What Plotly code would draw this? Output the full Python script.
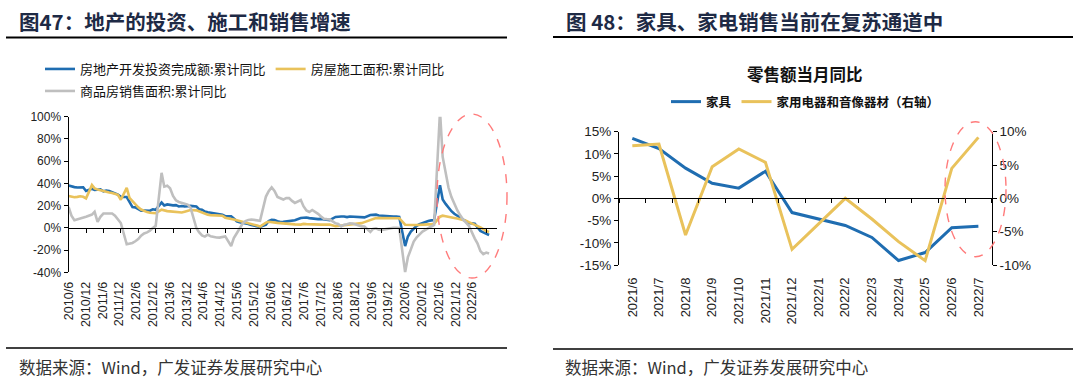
import plotly.graph_objects as go

# ---------------- Left chart: 地产的投资、施工和销售增速 (YTD yoy, %) ----------------
# monthly observations 2010/6 .. 2022/7 (January not published -> Feb..Dec each year)
invest_2010_2022 = [
    38.1, 37.2, 36.7, 36.4, 36.5, 36.5, 33.2,
    35.2, 34.1, 34.3, 34.6, 32.9, 33.6, 33.2, 32.0, 31.1, 29.9, 27.9,
    27.8, 23.5, 18.7, 18.5, 16.6, 15.4, 15.6, 15.4, 15.4, 16.7, 16.2,
    22.8, 20.2, 21.1, 20.6, 20.3, 20.5, 19.3, 19.7, 19.2, 19.5, 19.8,
    19.3, 16.8, 16.4, 14.7, 14.1, 13.7, 13.2, 12.5, 12.4, 11.9, 10.5,
    10.4, 8.5, 6.0, 5.1, 4.6, 4.3, 3.5, 2.6, 2.0, 1.3, 1.0,
    3.0, 6.2, 7.2, 7.0, 6.1, 5.3, 5.4, 5.8, 6.6, 6.5, 6.9,
    8.9, 9.1, 9.3, 8.8, 8.5, 7.9, 7.9, 8.1, 7.8, 7.5, 7.0,
    9.9, 10.4, 10.3, 10.2, 9.7, 10.2, 10.1, 9.9, 9.7, 9.7, 9.5,
    11.6, 11.8, 11.9, 11.2, 10.9, 10.6, 10.5, 10.5, 10.3, 10.2, 9.9,
    -16.3, -7.7, -3.3, -0.3, 1.9, 3.4, 4.6, 5.6, 6.3, 6.8, 7.0,
    38.3, 25.6, 21.6, 18.3, 15.0, 12.7, 10.9, 8.8, 7.2, 6.0, 4.4,
    3.7, 0.7, -2.7, -4.0, -5.4, -6.4,
]
construction_2010_2022 = [
    28.7, 28.0, 27.6, 27.9, 28.4, 28.0, 26.6,
    38.5, 35.5, 34.6, 33.9, 32.8, 32.5, 31.9, 31.4, 30.5, 29.7, 25.3,
    36.0, 27.0, 24.0, 21.0, 18.5, 16.5, 15.0, 14.2, 13.7, 13.5, 13.2,
    16.4, 15.5, 15.1, 14.9, 14.6, 14.3, 14.0, 13.9, 14.6, 15.3, 16.1,
    15.8, 14.8, 13.5, 12.5, 11.9, 11.5, 11.3, 11.2, 11.3, 11.0, 9.2,
    8.4, 7.5, 6.9, 6.3, 5.5, 4.8, 4.0, 3.3, 2.7, 2.1, 1.3,
    4.8, 5.5, 5.0, 4.8, 4.5, 4.3, 4.0, 3.9, 3.5, 3.2, 3.2,
    3.0, 3.6, 3.4, 3.2, 3.1, 3.0, 3.0, 3.0, 3.1, 3.0, 3.0,
    1.5, 1.8, 1.9, 2.0, 2.3, 2.6, 2.8, 3.3, 3.6, 4.3, 5.2,
    6.8, 8.2, 8.8, 8.8, 8.8, 9.0, 8.8, 8.7, 9.0, 8.7, 8.7,
    2.9, 2.6, 2.5, 2.6, 2.6, 2.9, 3.1, 3.1, 3.2, 3.2, 3.7,
    10.1, 11.0, 10.5, 10.1, 10.0, 9.0, 8.4, 7.9, 7.1, 6.5, 5.2,
    3.0, 1.5, 0.5, -1.0, -2.8, -3.7,
]
sales_2010_2022 = [
    18.8, 11.0, 6.9, 7.6, 8.4, 9.1, 10.1,
    12.0, 14.5, 5.5, 10.0, 12.9, 13.0, 12.8, 12.9, 11.0, 7.5, 4.4,
    -14.7, -14.2, -13.5, -12.0, -10.0, -7.0, -5.0, -4.0, -2.5, 0.0, 1.8,
    49.5, 37.1, 38.0, 35.6, 28.7, 24.8, 23.3, 22.7, 22.0, 21.0, 18.5,
    -0.1, -3.8, -6.8, -7.8, -6.0, -7.6, -8.3, -8.6, -8.7, -8.2, -7.6,
    -16.3, -9.2, -4.8, -0.2, 3.9, 6.1, 7.2, 7.5, 7.2, 7.4, 6.5,
    28.2, 33.1, 36.5, 33.2, 27.9, 26.4, 25.5, 26.9, 26.8, 24.3, 22.5,
    25.1, 19.5, 15.7, 14.3, 16.1, 14.7, 12.7, 10.3, 8.2, 7.9, 7.7,
    4.1, 3.6, 1.3, 2.9, 3.3, 4.2, 4.0, 2.9, 2.2, 1.4, 1.3,
    -3.6, -0.9, -0.3, -1.6, -1.8, -1.3, -0.6, -0.1, 0.1, 0.2, -0.1,
    -39.9, -26.3, -19.3, -12.3, -8.4, -5.8, -3.3, -1.8, 0.0, 1.3, 2.6,
    104.9, 63.8, 48.1, 36.3, 27.7, 21.5, 15.9, 11.3, 7.5, 4.8, 1.9,
    -9.6, -13.8, -20.9, -23.6, -22.2, -23.1,
]
left_tick_labels = [
    "2010/6", "2010/12", "2011/6", "2011/12", "2012/6", "2012/12", "2013/6",
    "2013/12", "2014/6", "2014/12", "2015/6", "2015/12", "2016/6", "2016/12",
    "2017/6", "2017/12", "2018/6", "2018/12", "2019/6", "2019/12", "2020/6",
    "2020/12", "2021/6", "2021/12", "2022/6",
]
left_y_vals = [-40, -20, 0, 20, 40, 60, 80, 100]
left_y_text = ["-40%", "-20%", "0%", "20%", "40%", "60%", "80%", "100%"]

# ---------------- Right chart: 零售额当月同比 (%) ----------------
right_categories = ["2021/6", "2021/7", "2021/8", "2021/9", "2021/10", "2021/11", "2021/12",
                    "2022/1", "2022/2", "2022/3", "2022/4", "2022/5", "2022/6", "2022/7"]
furniture = [13.5, 11.2, 6.8, 3.4, 2.3, 6.1, -3.2, -4.6, -6.1, -8.8, -14.0, -12.2, -6.6, -6.3]
appliances = [7.9, 8.15, -5.5, 4.75, 7.4, 5.4, -7.65, -3.8, 0.0, -3.1, -6.5, -9.35, 4.5, 9.15]
right_left_vals = [-15, -10, -5, 0, 5, 10, 15]
right_left_text = ["-15%", "-10%", "-5%", "0%", "5%", "10%", "15%"]
right_right_vals = [-10, -5, 0, 5, 10]
right_right_text = ["-10%", "-5%", "0%", "5%", "10%"]

# ---------------- helpers ----------------
W, H = 1080, 385


def px(x):
    return x / W


def py(y):
    return 1 - y / H


def month_dates():
    out = [f"2010-{m:02d}-01" for m in range(6, 13)]
    for yr in range(2011, 2022):
        out += [f"{yr}-{m:02d}-01" for m in range(2, 13)]
    out += [f"2022-{m:02d}-01" for m in range(2, 8)]
    return out


dates = month_dates()
left_tick_dates = [f"{s.split('/')[0]}-{int(s.split('/')[1]):02d}-01" for s in left_tick_labels]

BLUE = "#1F6DB1"
GOLD = "#E9C25B"
GREY = "#BFBFBF"
NUM_FONT = "Liberation Sans, Arial, Noto Sans CJK SC"
CJK = "Noto Sans CJK SC, Liberation Sans"
TITLE_COLOR = "#1E2A45"

fig = go.Figure()

# left chart traces
fig.add_trace(go.Scatter(x=dates, y=invest_2010_2022, name="房地产开发投资完成额:累计同比",
                         mode="lines", line=dict(color=BLUE, width=2.6), xaxis="x", yaxis="y",
                         legend="legend"))
fig.add_trace(go.Scatter(x=dates, y=construction_2010_2022, name="房屋施工面积:累计同比",
                         mode="lines", line=dict(color=GOLD, width=2.6), xaxis="x", yaxis="y",
                         legend="legend"))
fig.add_trace(go.Scatter(x=dates, y=sales_2010_2022, name="商品房销售面积:累计同比",
                         mode="lines", line=dict(color=GREY, width=2.6), xaxis="x", yaxis="y",
                         legend="legend2"))
# label-only axis for the left chart (labels sit at the bottom, ticks on the 0% line)
fig.add_trace(go.Scatter(x=[0], y=[None], xaxis="x3", yaxis="y", showlegend=False,
                         hoverinfo="skip", mode="lines"))

# right chart traces
fig.add_trace(go.Scatter(x=right_categories, y=furniture, name="家具", mode="lines",
                         line=dict(color=BLUE, width=3), xaxis="x2", yaxis="y2", legend="legend3"))
fig.add_trace(go.Scatter(x=right_categories, y=appliances, name="家用电器和音像器材（右轴）", mode="lines",
                         line=dict(color=GOLD, width=3), xaxis="x2", yaxis="y3", legend="legend3"))
fig.add_trace(go.Scatter(x=right_categories, y=[None] * len(right_categories), xaxis="x4", yaxis="y2",
                         showlegend=False, hoverinfo="skip", mode="lines"))

L_X0, L_X1 = 68.6, 496.7
L_Y0, L_Y1 = 116.7, 272.4
R_X0, R_X1 = 619, 991.7
R_Y0, R_Y1 = 131.7, 265

axis_common = dict(showgrid=False, zeroline=False, linecolor="black", linewidth=1.2,
                   tickcolor="black", tickwidth=1, automargin=False)

fig.update_layout(
    width=W, height=H, margin=dict(l=0, r=0, t=0, b=0, pad=0, autoexpand=False),
    paper_bgcolor="white", plot_bgcolor="rgba(0,0,0,0)",
    xaxis=dict(type="date", domain=[px(L_X0), px(L_X1)], anchor="free", position=py(227.7),
               range=["2010-06-01", "2022-09-19"], showline=True, ticks="outside", ticklen=4,
               tickvals=left_tick_dates, showticklabels=False, **axis_common),
    yaxis=dict(domain=[py(L_Y1), py(L_Y0)], anchor="x", range=[-40, 100],
               tickvals=left_y_vals, ticktext=left_y_text, ticks="outside", ticklen=4,
               showline=True, tickfont=dict(family=NUM_FONT, size=12, color="#222"), **axis_common),
    xaxis3=dict(overlaying="x", anchor="y", side="bottom", range=[-0.02, 25.45],
                tickvals=list(range(len(left_tick_labels))), ticktext=left_tick_labels,
                tickangle=-90, showline=False, ticks="", ticklabelstandoff=6, automargin=False,
                tickfont=dict(family=NUM_FONT, size=12.5, color="#222"), showgrid=False, zeroline=False),
    xaxis2=dict(type="category", domain=[px(R_X0), px(R_X1)], anchor="free", position=py(198.3),
                range=[-0.5, len(right_categories) - 0.5], showline=True, ticks="outside", ticklen=4,
                tickson="boundaries", showticklabels=False, **axis_common),
    yaxis2=dict(domain=[py(R_Y1), py(R_Y0)], anchor="x2", range=[-15, 15],
                tickvals=right_left_vals, ticktext=right_left_text, ticks="outside", ticklen=4,
                showline=True, tickfont=dict(family=NUM_FONT, size=13.5, color="#222"), **axis_common),
    yaxis3=dict(overlaying="y2", side="right", anchor="x2", range=[-10, 10],
                tickvals=right_right_vals, ticktext=right_right_text, ticks="outside", ticklen=4,
                showline=True, tickfont=dict(family=NUM_FONT, size=13.5, color="#222"), **axis_common),
    xaxis4=dict(type="category", overlaying="x2", anchor="y2", side="bottom",
                range=[-0.5, len(right_categories) - 0.5], tickangle=-90, showline=False, ticks="",
                ticklabelstandoff=9, tickfont=dict(family=NUM_FONT, size=13, color="#222"),
                showgrid=False, zeroline=False, automargin=False),
    legend=dict(orientation="h", x=px(40), y=py(69), xanchor="left", yanchor="middle",
                font=dict(family=CJK, size=13, color="#111"), bgcolor="rgba(0,0,0,0)",
                itemwidth=30, traceorder="normal"),
    legend2=dict(orientation="h", x=px(40), y=py(91), xanchor="left", yanchor="middle",
                 font=dict(family=CJK, size=13, color="#111"), bgcolor="rgba(0,0,0,0)",
                 itemwidth=30),
    legend3=dict(orientation="h", x=px(666), y=py(102), xanchor="left", yanchor="middle",
                 font=dict(family=CJK, size=12.5, color="#111", weight="bold"),
                 bgcolor="rgba(0,0,0,0)", itemwidth=30, traceorder="normal"),
)

annotations = [
    dict(text="图47：地产的投资、施工和销售增速", x=px(17), y=py(21), xanchor="left", yanchor="middle",
         font=dict(family=CJK, size=20.5, color=TITLE_COLOR, weight="bold")),
    dict(text="图 48：家具、家电销售当前在复苏通道中", x=px(564), y=py(21), xanchor="left",
         yanchor="middle", font=dict(family=CJK, size=20.5, color=TITLE_COLOR, weight="bold")),
    dict(text="零售额当月同比", x=px(805), y=py(74), xanchor="center", yanchor="middle",
         font=dict(family=CJK, size=16.5, color="#111", weight="bold")),
    dict(text="数据来源：Wind，广发证券发展研究中心", x=px(17), y=py(367), xanchor="left",
         yanchor="middle", font=dict(family=CJK, size=16.5, color="#333")),
    dict(text="数据来源：Wind，广发证券发展研究中心", x=px(563), y=py(367), xanchor="left",
         yanchor="middle", font=dict(family=CJK, size=16.5, color="#333")),
]
for a in annotations:
    a.update(xref="paper", yref="paper", showarrow=False)
fig.update_layout(annotations=annotations)

shapes = [
    # title underlines
    dict(type="line", x0=px(6), x1=px(507), y0=py(37.5), y1=py(37.5), line=dict(color="black", width=2)),
    dict(type="line", x0=px(553), x1=px(1073), y0=py(37), y1=py(37), line=dict(color="black", width=2)),
    # footer lines
    dict(type="line", x0=px(6), x1=px(507), y0=py(348), y1=py(348), line=dict(color="black", width=1.5)),
    dict(type="line", x0=px(553), x1=px(1073), y0=py(349), y1=py(349), line=dict(color="black", width=1.5)),
    # red dashed highlight ellipses
    dict(type="circle", x0=px(437), x1=px(507), y0=py(278), y1=py(114),
         line=dict(color="#FF7B7B", width=1.4, dash="dash")),
    dict(type="circle", x0=px(945), x1=px(1006), y0=py(256.7), y1=py(121.7),
         line=dict(color="#FF7B7B", width=1.4, dash="dash")),
]
for s in shapes:
    s.update(xref="paper", yref="paper")
fig.update_layout(shapes=shapes)

fig.write_html("out.html", config={"displayModeBar": False},
               post_script="document.body.style.margin='0';document.body.style.overflow='hidden';")
